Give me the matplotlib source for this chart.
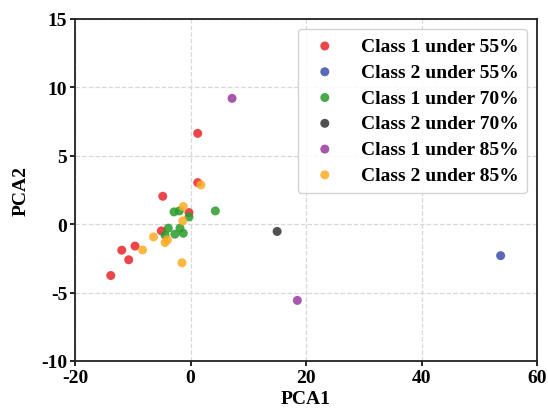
import matplotlib
matplotlib.use("Agg")
import matplotlib.pyplot as plt

plt.rcParams['font.family'] = ['Liberation Serif', 'DejaVu Serif']
plt.rcParams['font.weight'] = 'bold'
plt.rcParams['axes.unicode_minus'] = False

labels = ["Class 1 under 55%", "Class 2 under 55%", "Class 1 under 70%",
          "Class 2 under 70%", "Class 1 under 85%", "Class 2 under 85%"]
colors = ["#e8262a", "#3c4fa8", "#2a9a2a", "#333333", "#983a9e", "#fdac22"]

c1_55_x = [1.25, 1.25, -4.8, -0.26, -5.05, -9.6, -11.9, -10.7, -13.8]
c1_55_y = [6.64, 3.04, 2.04, 0.85, -0.49, -1.6, -1.9, -2.6, -3.75]
c2_55_x = [53.7]
c2_55_y = [-2.3]
c1_70_x = [-2.86, -1.94, -0.26, 4.3, -3.84, -1.82, -4.4, -2.7, -1.25]
c1_70_y = [0.9, 0.97, 0.53, 0.97, -0.29, -0.29, -0.8, -0.73, -0.66]
c2_70_x = [15.0]
c2_70_y = [-0.53]
c1_85_x = [7.2, 18.5]
c1_85_y = [9.2, -5.57]
c2_85_x = [1.8, -1.25, -1.35, -6.4, -8.3, -4.4, -4.0, -1.47]
c2_85_y = [2.87, 1.29, 0.24, -0.93, -1.88, -1.34, -1.15, -2.82]

series_x = [c1_55_x, c2_55_x, c1_70_x, c2_70_x, c1_85_x, c2_85_x]
series_y = [c1_55_y, c2_55_y, c1_70_y, c2_70_y, c1_85_y, c2_85_y]

fig = plt.figure(figsize=(5.48, 4.10), dpi=100)
ax = fig.add_axes([75/548, 1 - 362/410, 462/548, 342/410])

for xs, ys, c, lab in zip(series_x, series_y, colors, labels):
    ax.scatter(xs, ys, s=42, color=c, alpha=0.85, edgecolors='none', label=lab, zorder=3)

ax.set_xlim(-20, 60)
ax.set_ylim(-10, 15)
ax.set_xticks([-20, 0, 20, 40, 60])
ax.set_yticks([-10, -5, 0, 5, 10, 15])
ax.grid(True, linestyle='--', color='#d5d9dc', linewidth=0.9)
ax.set_axisbelow(True)
for sp in ax.spines.values():
    sp.set_linewidth(1.3)
    sp.set_color('#222222')
ax.tick_params(labelsize=14, width=1.2, length=3.5, pad=2)
for t in ax.get_xticklabels() + ax.get_yticklabels():
    t.set_fontweight('bold')
ax.set_xlabel("PCA1", fontsize=14, fontweight='bold', labelpad=3)
ax.set_ylabel("PCA2", fontsize=14, fontweight='bold', labelpad=8)

leg = ax.legend(loc='upper right', prop={'weight': 'bold', 'size': 14},
                frameon=True, fancybox=True, framealpha=0.85, edgecolor='#cccccc',
                handletextpad=0.9, borderpad=0.45, labelspacing=0.42, handlelength=1.9,
                borderaxespad=0.5)

fig.savefig("out.png", dpi=100)
